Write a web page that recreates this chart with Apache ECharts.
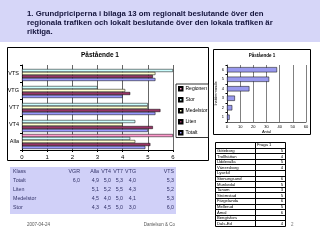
<!DOCTYPE html>
<html><head><meta charset="utf-8">
<script src="https://cdn.jsdelivr.net/npm/echarts@6/dist/echarts.min.js"></script>
<style>html,body{margin:0;padding:0;background:#fff}#c{width:320px;height:240px}</style>
</head><body><div id="c"></div>
<script>
// ---- data ----
var slideTitle = ['1. Grundpriciperna i bilaga 13 om regionalt beslutande över den',
                  'regionala trafiken och lokalt beslutande över den lokala trafiken är',
                  'riktiga.'];
var chartTitle = 'Påstående 1';
var klassCols = ['VGR', 'Alla', 'VT4', 'VT7', 'VTG', 'VTS'];
var totalt    = [6.0, 4.9, 5.0, 5.3, 4.0, 5.3];
var liten     = [null, 5.1, 5.2, 5.5, 4.3, 5.2];
var medelstor = [null, 4.5, 4.0, 5.0, 4.1, 5.3];
var stor      = [null, 4.3, 4.5, 5.0, 3.0, 6.0];
var regionen  = [6.0, null, null, null, null, null];
var seriesNames = ['Regionen', 'Stor', 'Medelstor', 'Liten', 'Totalt'];
var tableRowNames = ['Totalt', 'Liten', 'Medelstor', 'Stor'];
var mainTicks = [0, 1, 2, 3, 4, 5, 6];

var answerCats = ['1', '2', '3', '4', '5', '6'];
var answerCounts = [2, 4, 6, 17, 32, 38];
var answerTicks = [0, 10, 20, 30, 40, 50, 60];

var towns = ['Göteborg', 'Trollhättan', 'Uddevalla', 'Vänersborg', 'Lysekil', 'Stenungsund', 'Munkedal',
             'Tanum', 'Strömstad', 'Färgelanda', 'Mellerud', 'Åmål', 'Bengtsfors', 'Dals-Ed'];
var townVals = [5, 4, 5, 4, null, 6, 5, 3, 5, 6, 5, 6, null, 4];
var tableHeader = 'Fråga 1';
var footerDate = '2007-04-24';
var footerRight = 'Danielson & Co';
var pageNo = '2';

// ---- build ----
var chartCats = klassCols.slice(1); // Alla..VTS (bottom to top)
function sub(a) { return a.slice(1).map(function (v) { return v == null ? '-' : v; }); }
var regionData = ['-', '-', '-', '-', '-'];
regionData[0] = regionen[0]; // VGR shown at "Alla" row
var seriesData = [regionData, sub(stor), sub(medelstor), sub(liten), sub(totalt)];
var colors = ['#ff99cc', '#ccffff', '#ffffcc', '#993366', '#9999ff'];
function fmt(v) { return v == null ? '' : v.toFixed(1).replace('.', ','); }

var graphics = [];
// title band
graphics.push({type: 'rect', shape: {x: 0, y: 0, width: 320, height: 42}, style: {fill: '#d6d6f8'}, z: -10});
slideTitle.forEach(function (t, i) {
  graphics.push({type: 'text', x: 27, y: 10 + i * 9, style: {text: t, fill: '#14143c', font: 'bold 7.8px "Liberation Sans", Arial'}});
});
// main chart frame
graphics.push({type: 'rect', shape: {x: 7.5, y: 47.5, width: 201, height: 113}, style: {fill: '#fff', stroke: '#000', lineWidth: 1}, z: -9});
graphics.push({type: 'text', x: 100, y: 52, style: {text: chartTitle, fill: '#000', font: 'bold 6.5px "Liberation Sans", Arial', textAlign: 'center'}});
// small chart frame
graphics.push({type: 'rect', shape: {x: 213.5, y: 49.5, width: 97, height: 85}, style: {fill: '#fff', stroke: '#000', lineWidth: 1}, z: -9});
graphics.push({type: 'text', x: 262, y: 53, style: {text: chartTitle, fill: '#000', font: 'bold 4.5px "Liberation Sans", Arial', textAlign: 'center'}});
// bottom data table
graphics.push({type: 'rect', shape: {x: 10, y: 167, width: 166, height: 47}, style: {fill: '#d0d0f8'}, z: -9});
var colRight = [80, 99, 111, 123, 136, 174];
var rowY = [172, 181, 190, 199, 208];
var tf = '5.3px "Liberation Sans", Arial', tc = '#34346a';
graphics.push({type: 'text', x: 13, y: rowY[0] - 3, style: {text: 'Klass', fill: tc, font: tf}});
klassCols.forEach(function (k, j) {
  graphics.push({type: 'text', x: colRight[j], y: rowY[0] - 3, style: {text: k, fill: tc, font: tf, textAlign: 'right'}});
});
[totalt, liten, medelstor, stor].forEach(function (arr, i) {
  var y = rowY[i + 1] - 3;
  graphics.push({type: 'text', x: 13, y: y, style: {text: tableRowNames[i], fill: tc, font: tf}});
  arr.forEach(function (v, j) {
    if (v != null) graphics.push({type: 'text', x: colRight[j], y: y, style: {text: fmt(v), fill: tc, font: tf, textAlign: 'right'}});
  });
});
// footer
graphics.push({type: 'text', x: 27, y: 222, style: {text: footerDate, fill: '#555', font: '4.5px "Liberation Sans", Arial'}});
graphics.push({type: 'text', x: 175, y: 222, style: {text: footerRight, fill: '#555', font: '4.5px "Liberation Sans", Arial', textAlign: 'right'}});
graphics.push({type: 'text', x: 291, y: 222, style: {text: pageNo, fill: '#777', font: '4.5px "Liberation Sans", Arial'}});
// towns table
var tx0 = 215, tx1 = 255, tx2 = 285, ty0 = 142, rh = 5.6;
var nRows = towns.length + 1;
graphics.push({type: 'rect', shape: {x: tx0 + 0.5, y: ty0 + 0.5, width: tx2 - tx0, height: rh * nRows}, style: {fill: 'none', stroke: '#000', lineWidth: 1}});
graphics.push({type: 'line', shape: {x1: tx1 + 0.5, y1: ty0, x2: tx1 + 0.5, y2: ty0 + rh * nRows}, style: {stroke: '#000', lineWidth: 1}});
for (var r = 1; r < nRows; r++) {
  var yy = Math.round(ty0 + rh * r) + 0.5;
  graphics.push({type: 'line', shape: {x1: tx0, y1: yy, x2: tx2, y2: yy}, style: {stroke: '#000', lineWidth: 1}});
}
var sf = '4.2px "Liberation Sans", Arial';
graphics.push({type: 'text', x: tx1 + 2, y: ty0 + 1.2, style: {text: tableHeader, fill: '#000', font: sf}});
towns.forEach(function (t, i) {
  var y = ty0 + rh * (i + 1) + 1.2;
  graphics.push({type: 'text', x: tx0 + 2, y: y, style: {text: t, fill: '#000', font: sf}});
  if (townVals[i] != null) graphics.push({type: 'text', x: tx2 - 2, y: y, style: {text: String(townVals[i]), fill: '#000', font: sf, textAlign: 'right'}});
});

var series = seriesNames.map(function (n, i) {
  return {
    name: n, type: 'bar', xAxisIndex: 0, yAxisIndex: 0, data: seriesData[i],
    barGap: '0%', barCategoryGap: '12%',
    itemStyle: {color: colors[i], borderColor: '#000', borderWidth: 0.5},
    animation: false
  };
});
series.push({
  name: 'ans', type: 'bar', xAxisIndex: 1, yAxisIndex: 1, data: answerCounts,
  barCategoryGap: '45%',
  itemStyle: {color: '#9999ee', borderColor: '#000', borderWidth: 0.5}, animation: false
});

var option = {
  animation: false,
  textStyle: {fontFamily: '"Liberation Sans", Arial'},
  grid: [
    {left: 22, right: 147, top: 65, bottom: 90},
    {left: 227, right: 14, top: 65, bottom: 118}
  ],
  legend: {
    data: seriesNames, orient: 'vertical', left: 176, top: 84,
    itemWidth: 3.5, itemHeight: 3.5, itemGap: 5.5, icon: 'rect',
    padding: [2, 1, 2, 2], borderColor: '#000', borderWidth: 0.8, backgroundColor: '#fff',
    textStyle: {fontSize: 5, lineHeight: 4, color: '#000', padding: [0, 0, 0, -2]}
  },
  xAxis: [
    {type: 'value', gridIndex: 0, min: mainTicks[0], max: mainTicks[mainTicks.length - 1], interval: 1,
     axisLine: {show: true, lineStyle: {color: '#000', width: 1}}, axisTick: {show: true, length: 2, lineStyle: {color: '#000'}},
     axisLabel: {fontSize: 6, color: '#000', margin: 4},
     splitLine: {show: true, lineStyle: {color: '#000', width: 0.6}}},
    {type: 'value', gridIndex: 1, min: answerTicks[0], max: answerTicks[answerTicks.length - 1], interval: 10,
     name: 'Antal', nameLocation: 'middle', nameGap: 7, nameTextStyle: {fontSize: 4, color: '#000'},
     axisLine: {show: true, lineStyle: {color: '#000', width: 0.6}}, axisTick: {show: false},
     axisLabel: {fontSize: 4, color: '#000', margin: 3},
     splitLine: {show: true, lineStyle: {color: '#000', width: 0.5}}}
  ],
  yAxis: [
    {type: 'category', gridIndex: 0, data: chartCats,
     axisLine: {show: true, lineStyle: {color: '#000', width: 1}}, axisTick: {show: true, length: 2, lineStyle: {color: '#000'}},
     axisLabel: {fontSize: 5.5, color: '#000', margin: 3}},
    {type: 'category', gridIndex: 1, data: answerCats,
     name: 'Instämmande', nameLocation: 'middle', nameGap: 9, nameRotate: 90, nameTextStyle: {fontSize: 4, color: '#000'},
     axisLine: {show: true, lineStyle: {color: '#000', width: 0.6}}, axisTick: {show: true, length: 1.5, lineStyle: {color: '#000'}},
     axisLabel: {fontSize: 4, color: '#000', margin: 3}}
  ],
  graphic: graphics,
  series: series
};
var chart = echarts.init(document.getElementById('c'), null, {renderer: 'canvas'});
chart.setOption(option);
</script>
</body></html>
